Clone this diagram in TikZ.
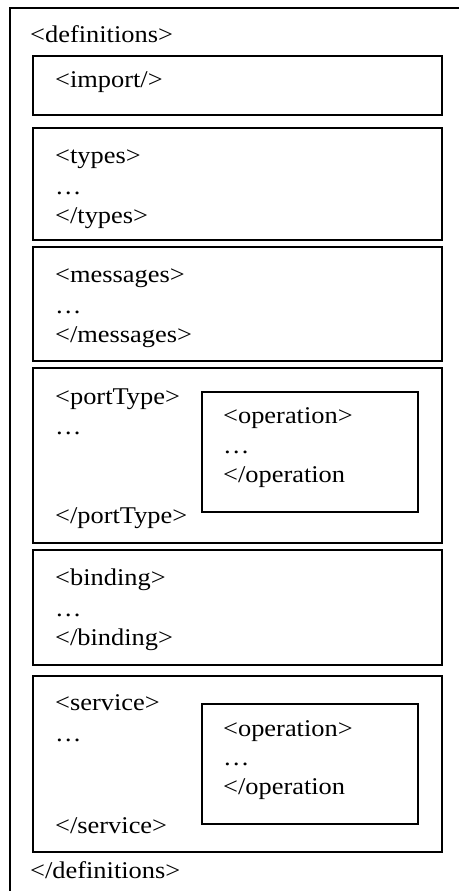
\documentclass[tikz,border=0pt]{standalone}
\usepackage{fontspec}
\setmainfont{Liberation Serif}[FakeStretch=1.1]
\begin{document}
\begin{tikzpicture}[x=1pt, y=-1pt,
  frame/.style={draw=black, line width=1.6pt, fill=none},
  tag/.style={anchor=base west, inner sep=0pt, font=\fontsize{24}{28}\selectfont}]
\useasboundingbox (0,0) rectangle (458,891);

% outer <definitions> frame, open at right and bottom
\draw[line width=1.8pt] (470,8) -- (10,8) -- (10,900);

% section boxes
\draw[frame] (33,56)  rectangle (442,115);
\draw[frame] (33,128) rectangle (442,240);
\draw[frame] (33,247) rectangle (442,361);
\draw[frame] (33,368) rectangle (442,543);
\draw[frame] (33,550) rectangle (442,665);
\draw[frame] (33,676) rectangle (442,852);
% nested operation boxes
\draw[frame] (202,392) rectangle (418,512);
\draw[frame] (202,704) rectangle (418,824);

% texts
\node[tag] (defopen)  at (30,43)  {<definitions>};
\node[tag] (import)   at (55,88)  {<import/>};

\node[tag] (typ1) at (55,163) {<types>};
\node[tag] (typ2) at (55,194) {…};
\node[tag] (typ3) at (55,223) {</types>};

\node[tag] (msg1) at (55,282) {<messages>};
\node[tag] (msg2) at (55,313) {…};
\node[tag] (msg3) at (55,342) {</messages>};

\node[tag] (pt1) at (55,404) {<portType>};
\node[tag] (pt2) at (55,434) {…};
\node[tag] (pt3) at (55,523) {</portType>};

\node[tag] (op1a) at (223,423) {<operation>};
\node[tag] (op1b) at (223,453) {…};
\node[tag] (op1c) at (223,482) {</operation};

\node[tag] (bd1) at (55,585) {<binding>};
\node[tag] (bd2) at (55,616) {…};
\node[tag] (bd3) at (55,645) {</binding>};

\node[tag] (sv1) at (55,710) {<service>};
\node[tag] (sv2) at (55,741) {…};
\node[tag] (sv3) at (55,833) {</service>};

\node[tag] (op2a) at (223,736) {<operation>};
\node[tag] (op2b) at (223,765) {…};
\node[tag] (op2c) at (223,794) {</operation};

\node[tag] (defclose) at (30,878) {</definitions>};
\end{tikzpicture}
\end{document}
